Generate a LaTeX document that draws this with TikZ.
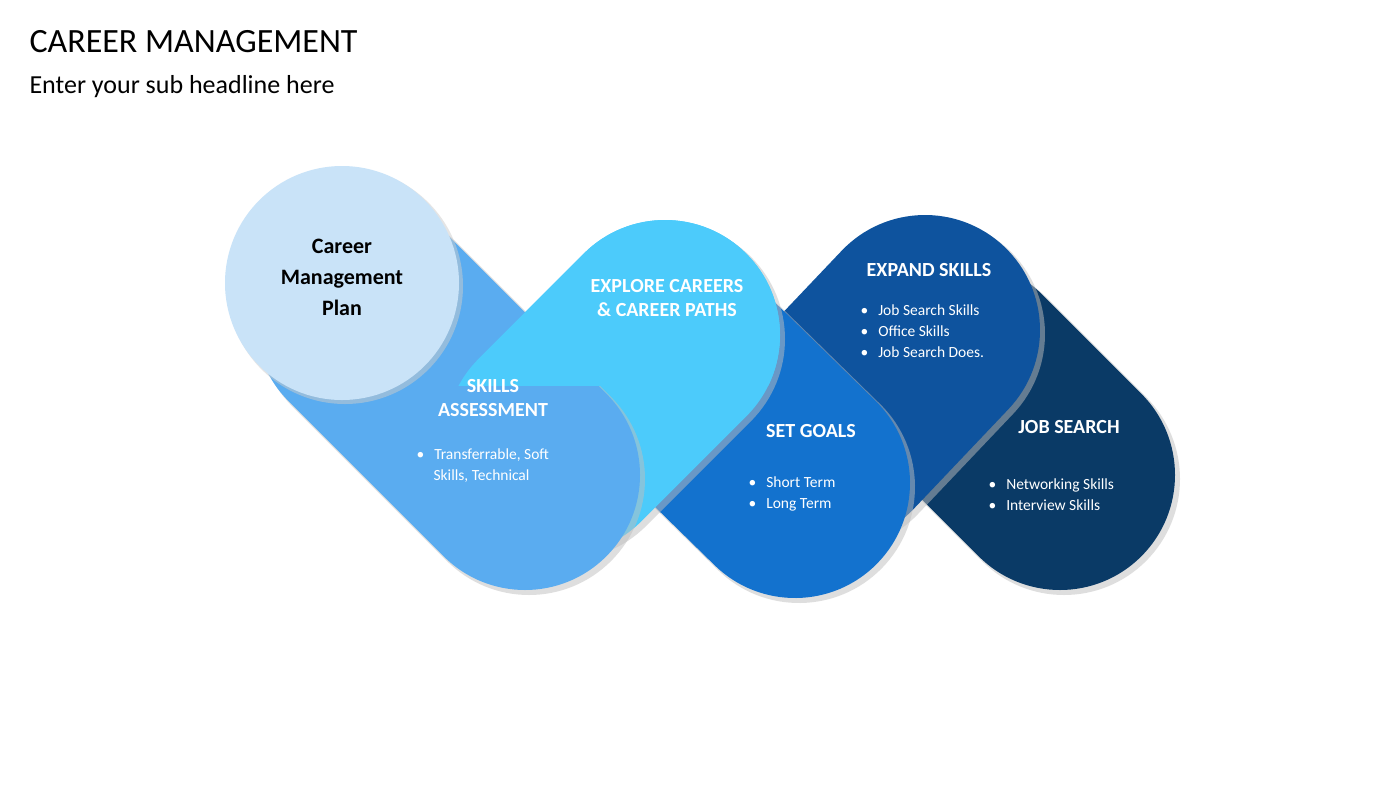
\documentclass[tikz,border=0pt]{standalone}
\usepackage{fontspec}
\setmainfont{Carlito}
\definecolor{cCirc}{HTML}{C9E3F8}
\definecolor{cSkill}{HTML}{5AACF0}
\definecolor{cExpl}{HTML}{4CCBFB}
\definecolor{cGoal}{HTML}{1372CE}
\definecolor{cExp}{HTML}{0E539E}
\definecolor{cJob}{HTML}{0A3A66}
\begin{document}
\begin{tikzpicture}[x=1pt,y=-1pt,
  pill/.style={line width=230pt,line cap=round},
  shad/.style={line width=232pt,line cap=round,draw=black!25,opacity=0.5},
  head/.style={text=white,font=\fontsize{20}{24}\selectfont\bfseries,align=center},
  bl/.style={text=white,font=\fontsize{15.5}{21}\selectfont,align=left,anchor=north west}]
\useasboundingbox[fill=white] (0,0) rectangle (1400,788);
\node[anchor=west,font=\fontsize{34}{40}\selectfont] (title) at (26,42) {CAREER MANAGEMENT};
\node[anchor=west,font=\fontsize{26}{30}\selectfont] (sub) at (26,87) {Enter your sub headline here};
% capsules
\draw[shad] (965,380) -- (1064,479);
\draw[pill,cJob] (960,375) -- (1060,475);
\draw[shad] (834,434) -- (929,334);
\draw[pill,cExp] (830,430) -- (925,330);
\draw[shad] (704,394) -- (799,487);
\draw[pill,cGoal] (700,390) -- (795,483);
\draw[shad] (564,444) -- (669,339);
\draw[pill,cExpl] (560,440) -- (665,335);
\draw[shad] (374,324) -- (529,479);
\draw[pill,cSkill] (370,320) -- (525,475);
\begin{scope}
\clip (0,0) rectangle (1400,385);
\draw[pill,cExpl] (560,440) -- (665,335);
\end{scope}
\fill[black!20,opacity=0.5] (345,286) circle (118);
\fill[cCirc] (342,283) circle (117);
\node[font=\fontsize{22}{31}\selectfont\bfseries,align=center] (plan) at (342,277) {Career\\Management\\Plan};
\node[head] (h1) at (493,398) {SKILLS\\ASSESSMENT};
\node[bl] (b1) at (413,445) {\textbullet\hspace{10pt}Transferrable, Soft\\\hspace{17pt}Skills, Technical};
\node[head] (h2) at (667,298) {EXPLORE CAREERS\\\&\ CAREER PATHS};
\node[head] (h3) at (811,431) {SET GOALS};
\node[bl] (b3) at (745,473) {\textbullet\hspace{10pt}Short Term\\\textbullet\hspace{10pt}Long Term};
\node[head] (h4) at (929,270) {EXPAND SKILLS};
\node[bl] (b4) at (857,301) {\textbullet\hspace{10pt}Job Search Skills\\\textbullet\hspace{10pt}Office Skills\\\textbullet\hspace{10pt}Job Search Does.};
\node[head] (h5) at (1069,427) {JOB SEARCH};
\node[bl] (b5) at (985,475) {\textbullet\hspace{10pt}Networking Skills\\\textbullet\hspace{10pt}Interview Skills};
\end{tikzpicture}
\end{document}
